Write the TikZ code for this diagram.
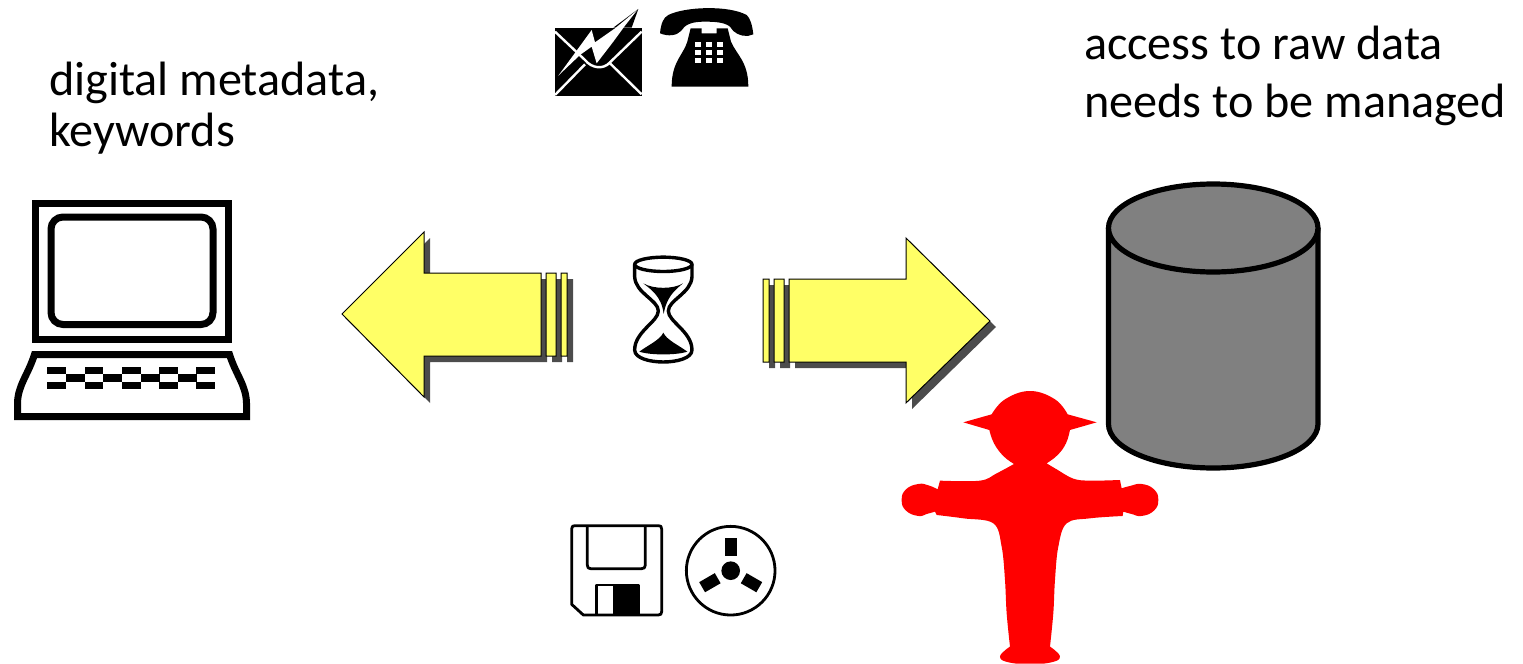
\documentclass[tikz,border=0pt]{standalone}
\usepackage{fontspec}
\setmainfont{Carlito}
\usetikzlibrary{shadows}
\definecolor{arrowyellow}{HTML}{FFFF66}

\begin{document}
\begin{tikzpicture}[x=0.5pt,y=-0.5pt]

\tikzset{
  label text/.style={
    inner sep=0pt,
    outer sep=0pt,
    anchor=base west,
    align=left,
    text=black,
  },
  arrow block/.style={
    draw=black,
    line width=0.5pt,
    fill=arrowyellow,
    drop shadow={shadow xshift=3pt,shadow yshift=-3pt,opacity=1,fill=black!70},
  },
  icon line/.style={
    draw=black,
    line width=3.5pt,
    fill=none,
  },
  thin icon/.style={
    draw=black,
    line width=1.4pt,
    fill=none,
    line join=round,
  },
  drum/.style={
    draw=black,
    line width=2.6pt,
    fill=black!50,
  },
}

\useasboundingbox (0,0) rectangle (1523,664);

% Labels
\node[label text,font=\fontsize{24.1}{25.5}\selectfont] (metadata) at (49,146) {digital metadata,\\keywords};
\node[label text,font=\fontsize{24.1}{29}\selectfont] (access) at (1084,117) {access to raw data\\needs to be managed};

% Computer
\draw[icon line] (35.5,203) rectangle (228.5,339);
\draw[icon line,rounded corners=6pt] (51,217) rectangle (213,324.5);
\draw[icon line] (17.5,416.5) -- (17.5,403) .. controls (18,385) and (28,375) .. (34.5,354.5)
  -- (229.5,354.5) .. controls (236,375) and (246,385) .. (246.5,403) -- (246.5,416.5) -- cycle;
\foreach \keyx in {47,84.5,122,159,196} {
  \fill (\keyx,367) rectangle ++(18.5,7);
  \fill (\keyx,382) rectangle ++(18.5,7);
}
\foreach \keyx in {65.5,103,140.5,177.5} {
  \fill (\keyx,374) rectangle ++(19,8);
}

% Arrows
\path[arrow block] (342,314) -- (424,232) -- (424,273) -- (541,273) -- (541,356) -- (424,356) -- (424,397) -- cycle
  (546,273) rectangle (556,356)
  (561,273) rectangle (567,356);
\path[arrow block] (990,321) -- (906,238) -- (906,279) -- (789,279) -- (789,362) -- (906,362) -- (906,403) -- cycle
  (774,279) rectangle (784,362)
  (763,279) rectangle (769,362);

% Hourglass
\begin{scope}[shift={(520,240)},scale=0.3333]
  \draw[thin icon,line width=1.7pt] (430,73) ellipse (86 and 21.5);
  \draw[thin icon,line width=1.7pt] (344,73) -- (344,110) .. controls (346,160) and (415,180) .. (415,213)
    .. controls (415,245) and (344,275) .. (344,330) .. controls (344,355) and (390,366) .. (430,366)
    .. controls (470,366) and (516,355) .. (516,330) .. controls (516,275) and (445,245) .. (445,213)
    .. controls (445,180) and (514,160) .. (516,110) -- (516,73);
  \fill (370,130) .. controls (400,148) and (460,148) .. (489,130) .. controls (465,150) and (440,170) .. (431,222)
    .. controls (425,170) and (395,150) .. (370,130);
  \fill (430,278) .. controls (440,300) and (475,315) .. (502,335) .. controls (470,346) and (390,346) .. (358,335)
    .. controls (385,315) and (420,300) .. (430,278);
\end{scope}

% Envelope
\begin{scope}[shift={(550,5)},scale=0.3333]
  \fill (15,68) rectangle (275,272);
  \fill (265,12) -- (190,68) -- (245,68) -- cycle;
  \draw[white,line width=1.2pt] (15,80) -- (105,165) .. controls (125,190) and (160,195) .. (180,172) -- (275,80);
  \draw[white,line width=1.2pt] (15,270) -- (105,178) (275,268) -- (180,175);
  \fill[white] (25,212) -- (85,130) -- (125,75) -- (135,112) -- (195,70) -- (262,15) -- (225,62) -- (190,110)
    -- (140,175) -- (125,125) -- (90,150) -- cycle;
\end{scope}

% Telephone
\begin{scope}[shift={(655,5)},scale=0.3333]
  \fill (15,85) .. controls (18,55) and (25,38) .. (40,30) .. controls (90,5) and (220,0) .. (275,30)
    .. controls (285,38) and (292,60) .. (295,88) .. controls (275,98) and (250,92) .. (235,78)
    .. controls (225,58) and (205,50) .. (150,50) .. controls (105,50) and (90,60) .. (78,78)
    .. controls (65,92) and (40,95) .. (15,85) -- cycle;
  \fill (107,70) -- (140,70) -- (140,85) -- (185,85) -- (185,70) -- (218,70) -- (228,110)
    .. controls (245,150) and (280,170) .. (280,245) -- (50,245) .. controls (50,170) and (85,150) .. (97,110) -- cycle;
  \foreach \keyx in {120,153,187} {
    \foreach \keyy in {112,135,158} {
      \fill[white] (\keyx,\keyy) rectangle ++(18,15);
    }
  }
\end{scope}

% Floppy disk
\begin{scope}[shift={(560,515)},scale=0.3333]
  \draw[thin icon] (35,268) -- (35,42) .. controls (35,34) and (38,32) .. (45,32) -- (295,32)
    .. controls (302,32) and (305,34) .. (305,42) -- (305,290) .. controls (305,297) and (302,300) .. (295,300)
    -- (70,300) -- cycle;
  \draw[thin icon] (82,32) -- (82,150) .. controls (82,158) and (85,161) .. (92,161) -- (245,161)
    .. controls (252,161) and (256,158) .. (256,150) -- (256,32);
  \draw[thin icon] (110,300) -- (110,210) -- (235,210) -- (235,300);
  \fill (160,208) rectangle (236,300);
\end{scope}

% Tape reel
\begin{scope}[shift={(730.7,570.7)},scale=0.3333]
  \draw[thin icon] (0,0) circle (133);
  \fill (0,0) circle (28);
  \foreach \spoke in {0,120,240} {
    \fill[rotate=\spoke] (-17.5,-99) rectangle (17.5,-45);
  }
\end{scope}

% Database
\draw[drum] (1108.5,228) -- (1108.5,424) arc[start angle=180,end angle=0,x radius=104.75,y radius=44]
  -- (1318,228);
\draw[drum] (1213.25,228) ellipse (104.75 and 44);

% Figure
\begin{scope}[shift={(890,380)},scale=0.3333]
  \fill[red] (220,127) -- (305,103)
    -- plot[smooth,tension=0.7] coordinates {(305,103) (345,58) (420,33) (495,58) (533,103)}
    -- (620,127) -- (540,150)
    -- plot[smooth,tension=0.7] coordinates {(540,150) (528,190) (503,225) (470,250)}
    -- plot[smooth,tension=0.6] coordinates {(470,250) (500,268) (550,296) (600,302) (690,300)}
    -- (695,325)
    -- plot[smooth,tension=0.8] coordinates {(695,325) (720,318) (755,312) (792,328) (805,360) (792,392) (755,408) (725,402) (700,395)}
    -- (698,408)
    -- plot[smooth,tension=0.6] coordinates {(698,408) (600,415) (530,430) (505,500) (495,600) (490,700) (480,800)}
    -- plot[smooth,tension=0.8] coordinates {(480,800) (510,830) (480,848) (420,851) (360,848) (330,830) (360,800)}
    -- plot[smooth,tension=0.6] coordinates {(360,800) (350,700) (345,600) (335,500) (310,430) (220,415) (140,405)}
    -- (135,395)
    -- plot[smooth,tension=0.8] coordinates {(135,395) (110,402) (85,408) (48,392) (35,360) (48,328) (85,312) (115,316) (143,328)}
    -- (150,302)
    -- plot[smooth,tension=0.6] coordinates {(150,302) (270,302) (320,280) (372,252)}
    -- plot[smooth,tension=0.7] coordinates {(372,252) (340,228) (312,190) (298,150)}
    -- cycle;
\end{scope}

\end{tikzpicture}
\end{document}
